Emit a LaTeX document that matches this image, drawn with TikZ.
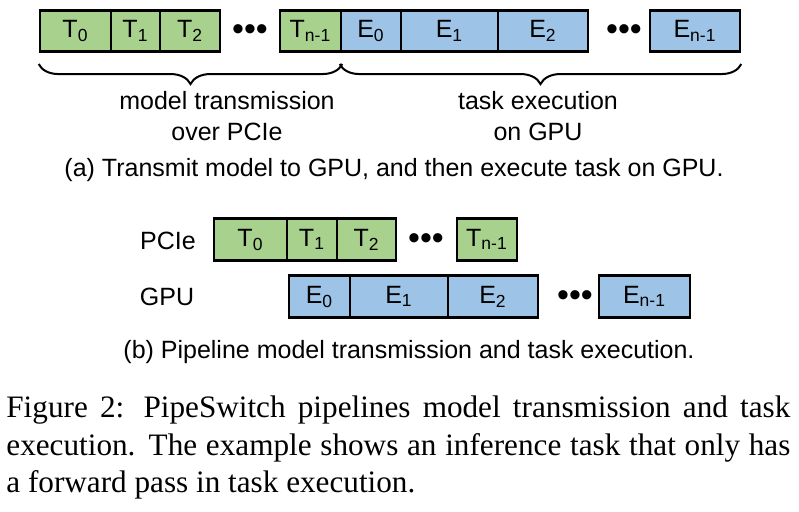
\documentclass[tikz,border=0pt]{standalone}
\usepackage{fontspec}
\setmainfont{Liberation Serif}
\setsansfont{Liberation Sans}
\usepackage{xcolor}
\usetikzlibrary{positioning, decorations.pathreplacing}

\definecolor{tgreen}{RGB}{169,209,142}
\definecolor{eblue}{RGB}{157,195,230}

\tikzset{
  cell/.style={draw, line width=1.3pt, inner sep=0pt, minimum height=20.75pt,
    minimum width=#1*0.5pt, font=\sffamily\fontsize{12.5}{15}\selectfont},
  tcell/.style={cell=#1, fill=tgreen},
  ecell/.style={cell=#1, fill=eblue},
  dots/.style={inner sep=0pt, font=\sffamily\fontsize{17}{17}\selectfont},
  lbl/.style={align=center, inner sep=0pt, font=\sffamily\fontsize{12.5}{15.5}\selectfont},
  capline/.style={anchor=base west, inner sep=0pt, font=\fontsize{15.6}{18.75}\selectfont},
  brc/.style={decorate, decoration={brace, mirror, amplitude=10pt}, line width=1pt}
}

\begin{document}
\begin{tikzpicture}[x=0.5pt, y=-0.5pt]
\useasboundingbox (0,0) rectangle (799,511);

% (a) transmit first, then execute
\node[tcell=71] (t0) at (75.5,31) {T\textsubscript{0}};
\node[tcell=49] (t1) at (135.5,31) {T\textsubscript{1}};
\node[tcell=60] (t2) at (190,31) {T\textsubscript{2}};
\node[dots] (d1) at (250,33) {•••};
\node[tcell=61] (tn1) at (310.5,31) {T\textsubscript{n-1}};
\node[ecell=60] (e0) at (371,31) {E\textsubscript{0}};
\node[ecell=97] (e1) at (449.5,31) {E\textsubscript{1}};
\node[ecell=90] (e2) at (543,31) {E\textsubscript{2}};
\node[dots] (d2) at (624,33) {•••};
\node[ecell=90] (en1) at (695,31) {E\textsubscript{n-1}};

\draw[brc] ([yshift=-5.5pt]t0.south west) -- ([yshift=-5.5pt]tn1.south east);
\draw[brc] ([yshift=-5.5pt]e0.south west) -- ([yshift=-5.5pt]en1.south east);

\node[lbl] (trans) at (227,116) {model transmission\\over PCIe};
\node[lbl] (exec) at (538,116) {task execution\\on GPU};
\node[lbl] (capa) at (394,170) {(a) Transmit model to GPU, and then execute task on GPU.};

% (b) pipelined
\node[lbl] (pcie) at (168,241) {PCIe};
\node[lbl] (gpu) at (167,297) {GPU};

\node[tcell=73] (pt0) at (250.5,239.5) {T\textsubscript{0}};
\node[tcell=50] (pt1) at (312,239.5) {T\textsubscript{1}};
\node[tcell=59] (pt2) at (366.5,239.5) {T\textsubscript{2}};
\node[dots] (d3) at (426,241.5) {•••};
\node[tcell=60] (ptn1) at (487,239.5) {T\textsubscript{n-1}};

\node[ecell=61] (ge0) at (319.5,296.5) {E\textsubscript{0}};
\node[ecell=98] (ge1) at (399,296.5) {E\textsubscript{1}};
\node[ecell=90] (ge2) at (493,296.5) {E\textsubscript{2}};
\node[dots] (d4) at (575,298.5) {•••};
\node[ecell=91] (gen1) at (644.5,296.5) {E\textsubscript{n-1}};

\node[lbl] (capb) at (409,352) {(b) Pipeline model transmission and task execution.};

% figure caption
\node[capline] (fig1) at (6,417) {\makebox[392pt][s]{Figure 2: PipeSwitch pipelines model transmission and task}};
\node[capline] (fig2) at (6,455) {\makebox[392pt][s]{execution. The example shows an inference task that only has}};
\node[capline] (fig3) at (6,492) {a forward pass in task execution.};
\end{tikzpicture}
\end{document}
